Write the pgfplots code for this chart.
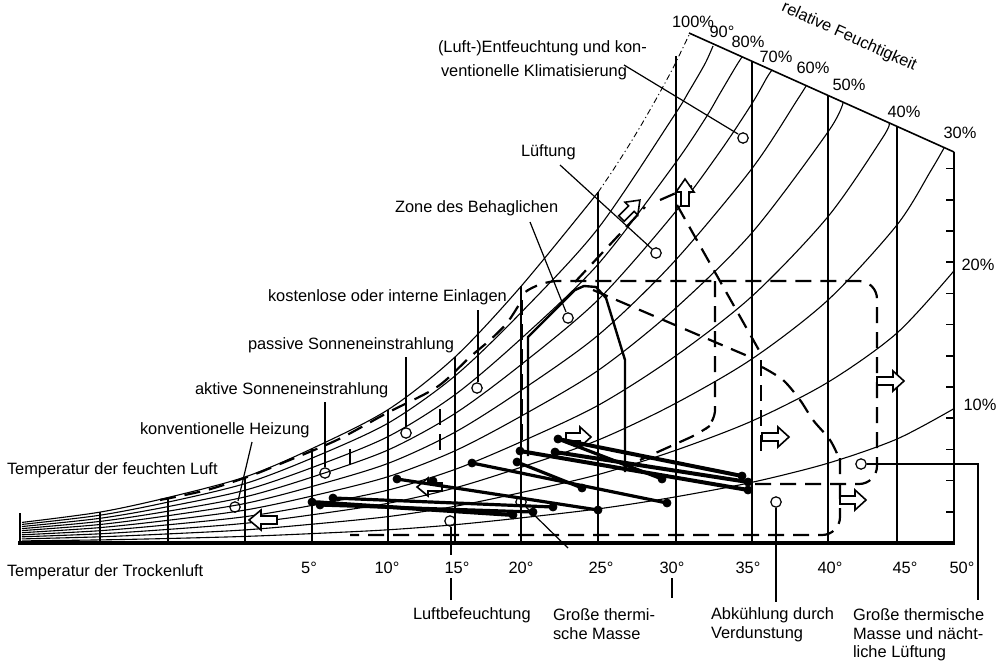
\documentclass[border=0pt]{standalone}
\usepackage{pgfplots}
\pgfplotsset{compat=1.18}
\usepackage{fontspec}
\setmainfont{Liberation Sans}
\newcommand\lab{\fontsize{8.2}{9.8}\selectfont}
\tikzset{t/.style={font=\lab, inner sep=0pt, outer sep=0pt}}
\begin{document}
\begin{tikzpicture}
\begin{axis}[
  x=0.5pt, y=0.5pt, y dir=reverse,
  xmin=0, xmax=999, ymin=0, ymax=663,
  hide axis, clip=false,
  curve/.style={line width=0.55pt, black, smooth},
  vl/.style={line width=0.7pt, black},
  dl/.style={line width=1.6pt, black},
  bd/.style={line width=1.1pt, black, dash pattern=on 8pt off 4.5pt},
  ar/.style={line width=0.8pt, black, fill=white},
]
\fill[white] (axis cs:0,0) rectangle (axis cs:999,663);

% relative humidity curves (pixel coordinates)
\addplot[curve] coordinates {(22,522.4)(100,512.1)(168,497.5)(245,477.0)(312,448.6)(388,409.7)(455,357.0)(521,286.4)(598,192.4)};
\addplot[line width=0.45pt, black, smooth, dash pattern=on 3pt off 1.5pt on 0.6pt off 1.5pt] coordinates {(598,192.4)(613,170.2)(628,146.8)(643,122.0)(658,95.7)(673,68.0)(689,35)};
\addplot[curve] coordinates {(22,524.4)(100,515.2)(168,502.1)(245,483.6)(312,458.1)(388,423.2)(455,375.9)(521,312.6)(598,228.5)(673,117.3)(689,91.3)(705,63.7)(713,46)};
\addplot[curve] coordinates {(22,526.5)(100,518.3)(168,506.6)(245,490.2)(312,467.6)(388,436.6)(455,394.7)(521,338.7)(598,264.3)(673,166.3)(705,119)(720,93.4)(736,66.3)(742,57)};
\addplot[curve] coordinates {(22,528.6)(100,521.4)(168,511.2)(245,496.9)(312,477.1)(388,450.0)(455,413.5)(521,364.7)(598,299.9)(673,214.8)(720,151.6)(752,103.5)(767,77.4)(772,70)};
\addplot[curve] coordinates {(22,530.6)(100,524.5)(168,515.7)(245,503.5)(312,486.5)(388,463.4)(455,432.2)(521,390.5)(598,335.3)(673,262.9)(752,168.5)(798,98.7)(806,86)};
\addplot[curve] coordinates {(22,532.7)(100,527.6)(168,520.3)(245,510.1)(312,496.0)(388,476.7)(455,450.8)(521,416.2)(598,370.5)(673,310.5)(752,232.7)(828,131.9)(843,103)};
\addplot[curve] coordinates {(22,534.8)(100,530.7)(168,524.8)(245,516.7)(312,505.4)(388,490.1)(455,469.4)(521,441.8)(598,405.4)(673,357.8)(752,296.2)(828,216.6)(883,137.1)(889,123)};
\addplot[curve] coordinates {(22,536.8)(100,533.8)(168,529.4)(245,523.3)(312,514.8)(388,503.3)(455,487.9)(521,467.3)(598,440.1)(673,404.7)(752,358.9)(828,300.0)(897,224.9)(931,170.4)(944,148)};
\addplot[curve] coordinates {(22,538.9)(100,536.8)(168,533.9)(245,529.9)(312,524.2)(388,516.6)(455,506.3)(521,492.6)(598,474.6)(673,451.2)(752,421.0)(828,382.2)(897,333.0)(954,270.8)};
\addplot[curve] coordinates {(22,540.9)(100,539.9)(168,538.5)(245,536.4)(312,533.6)(388,529.8)(455,524.7)(521,517.9)(598,508.9)(673,497.3)(752,482.3)(828,463.2)(897,439.0)(954,408.6)};

% dry-bulb verticals
\addplot[vl] coordinates {(20,513)(20,542)};
\addplot[vl] coordinates {(100,512)(100,542)};
\addplot[vl] coordinates {(168,497.5)(168,542)};
\addplot[vl] coordinates {(245,477)(245,542)};
\addplot[vl] coordinates {(312,448.6)(312,542)};
\addplot[vl] coordinates {(388,409.7)(388,542)};
\addplot[vl] coordinates {(455,357)(455,542)};
\addplot[vl] coordinates {(521,286.4)(521,542)};
\addplot[vl] coordinates {(598,192.4)(598,542)};
\addplot[vl] coordinates {(676,56)(676,542)};
\addplot[vl] coordinates {(752,61.5)(752,542)};
\addplot[vl] coordinates {(828,95.7)(828,542)};
\addplot[vl] coordinates {(897,126.8)(897,542)};

% frame
\addplot[line width=0.8pt] coordinates {(689,33)(954,152)};
\addplot[line width=1.1pt] coordinates {(954,152)(954,543)};
\addplot[line width=1.6pt] coordinates {(18,543)(955,543)};
\pgfplotsinvokeforeach{511.8,480.6,449.4,418.2,387,355.8,324.6,293.4,262.2,231,199.8,168.6}{
  \addplot[line width=0.8pt] coordinates {(946,#1)(954,#1)};
}

% comfort zone (solid)
\addplot[line width=1.2pt, black] coordinates {(528,456)(528,337)(575,290)(584,286)(596,287)(606,298)(625,360)(625,472)};

% strategy zones (dashed)
\addplot[bd, smooth] coordinates {(160,500)(207,490)(250,476)(280,464)(337,440)(387,413)(437,387)(470,357)(490,340)(507,323)(520,303)};
\addplot[bd] coordinates {(522,440)(522,300)};
\addplot[bd] coordinates {(440,450)(440,400)};
\addplot[bd] coordinates {(350,465)(350,440)};
\addplot[bd, rounded corners=9pt] coordinates {(528,290)(540,281)(877,281)(877,484)(745,484)};
\addplot[bd, rounded corners=6pt] coordinates {(715,281)(715,422)(700,433)(640,460)};
\addplot[bd] coordinates {(593,290)(750,357)};
\addplot[bd] coordinates {(575,282)(645,207)};
\addplot[bd] coordinates {(660,200)(692,186)};
\addplot[bd] coordinates {(677,205)(760,352)};
\addplot[bd] coordinates {(761,360)(761,457)};
\addplot[bd, smooth] coordinates {(762,367)(783,380)(800,400)(813,420)(830,440)(839,458)};
\addplot[bd, rounded corners=9pt] coordinates {(840,458)(840,535)(350,535)};

% open block arrows
\addplot[ar] coordinates {(618.7,215.7)(628.6,205.8)(625.0,202.2)(639.9,200.1)(637.8,215.0)(634.2,211.4)(624.3,221.3)} -- cycle;
\addplot[ar] coordinates {(681,206)(681,192)(676,192)(685,179)(694,192)(689,192)(689,206)} -- cycle;
\addplot[ar] coordinates {(762,433)(778,433)(778,427)(789,437)(778,447)(778,441)(762,441)} -- cycle;
\addplot[ar] coordinates {(877,377)(893,377)(893,371)(904,381)(893,391)(893,385)(877,385)} -- cycle;
\addplot[ar] coordinates {(840,496)(855,496)(855,490)(866,500)(855,510)(855,504)(840,504)} -- cycle;
\addplot[ar] coordinates {(566,433)(580,433)(580,427)(591,437)(580,447)(580,441)(566,441)} -- cycle;
\addplot[ar] coordinates {(277,516)(261,516)(261,510)(249,520)(261,530)(261,524)(277,524)} -- cycle;
\addplot[ar] coordinates {(442,483)(428,483)(428,478)(417,487)(428,496)(428,491)(442,491)} -- cycle;

% climate lines (thick with dots)
\addplot[line width=2pt, black] coordinates {(558,439)(742,476)};
\addplot[line width=2pt, black] coordinates {(555,452)(748,482)};
\addplot[line width=2pt, black] coordinates {(520,451)(748,490)};
\addplot[dl] coordinates {(558,439)(662,479)};
\addplot[dl] coordinates {(517,462)(582,488)};
\addplot[dl] coordinates {(472,463)(667,503)};
\addplot[dl] coordinates {(397,479)(598,510)};
\addplot[line width=2pt, black] coordinates {(312,502)(513,515)};
\addplot[dl] coordinates {(333,498)(553,507)};
\addplot[dl] coordinates {(320,505)(533,512)};
\addplot[only marks, mark=*, mark size=2pt, black] coordinates {
 (558,439)(742,476)(555,452)(748,482)(520,451)(748,490)(662,479)(517,462)(582,488)
 (472,463)(667,503)(397,479)(598,510)(312,502)(513,515)(333,498)(553,507)(320,505)(533,512)(433,481)};

% leader lines
\addplot[line width=0.6pt] coordinates {(624,65)(738,134)};
\addplot[line width=0.6pt] coordinates {(560,165)(652,249)};
\addplot[line width=0.6pt] coordinates {(530,222)(566,312)};
\addplot[line width=0.6pt] coordinates {(478,310)(478,382)};
\addplot[line width=0.6pt] coordinates {(406,357)(406,427)};
\addplot[line width=0.6pt] coordinates {(325,402)(325,467)};
\addplot[line width=0.6pt] coordinates {(252,442)(238,501)};
\addplot[line width=0.6pt] coordinates {(451,527)(451,555)};
\addplot[line width=0.6pt] coordinates {(451,578)(451,600)};
\addplot[line width=0.6pt] coordinates {(526,507)(568,548)};
\addplot[line width=0.6pt] coordinates {(672,578)(672,598)};
\addplot[line width=0.6pt] coordinates {(776,508)(776,602)};
\addplot[line width=0.6pt] coordinates {(867,464)(978,464)(978,600)};
\addplot[only marks, mark=o, mark size=2.6pt, line width=0.6pt, black, fill=white] coordinates {
 (743,138)(656,253)(568,318)(477,388)(406,433)(325,473)(235,507)(450,521)(521,502)(776,502)(861,464)};

% texts
\node[t, anchor=west] at (axis cs:438,48) {(Luft-)Entfeuchtung und kon-};
\node[t, anchor=west] at (axis cs:441,72) {ventionelle Klimatisierung};
\node[t, anchor=west] at (axis cs:521,152) {Lüftung};
\node[t, anchor=west] at (axis cs:395,208) {Zone des Behaglichen};
\node[t, anchor=west] at (axis cs:268,297) {kostenlose oder interne Einlagen};
\node[t, anchor=west] at (axis cs:248,345) {passive Sonneneinstrahlung};
\node[t, anchor=west] at (axis cs:195,390) {aktive Sonneneinstrahlung};
\node[t, anchor=west] at (axis cs:140,430) {konventionelle Heizung};
\node[t, anchor=west] at (axis cs:7,470) {Temperatur der feuchten Luft};
\node[t, anchor=west] at (axis cs:7,572) {Temperatur der Trockenluft};
\node[t] at (axis cs:309,568) {5°};
\node[t] at (axis cs:387,568) {10°};
\node[t] at (axis cs:457,568) {15°};
\node[t] at (axis cs:521,568) {20°};
\node[t] at (axis cs:601,568) {25°};
\node[t] at (axis cs:672,568) {30°};
\node[t] at (axis cs:748,568) {35°};
\node[t] at (axis cs:830,568) {40°};
\node[t] at (axis cs:905,568) {45°};
\node[t] at (axis cs:962,568) {50°};
\node[t, anchor=west] at (axis cs:413,615) {Luftbefeuchtung};
\node[t, anchor=west] at (axis cs:553,615) {Große thermi-};
\node[t, anchor=west] at (axis cs:553,634) {sche Masse};
\node[t, anchor=west] at (axis cs:711,615) {Abkühlung durch};
\node[t, anchor=west] at (axis cs:711,634) {Verdunstung};
\node[t, anchor=west] at (axis cs:853,615) {Große thermische};
\node[t, anchor=west] at (axis cs:853,634) {Masse und nächt-};
\node[t, anchor=west] at (axis cs:853,653) {liche Lüftung};
\node[t] at (axis cs:693,22) {100\%};
\node[t] at (axis cs:722,32) {90°};
\node[t] at (axis cs:748,42) {80\%};
\node[t] at (axis cs:776,57) {70\%};
\node[t] at (axis cs:813,68) {60\%};
\node[t] at (axis cs:849,85) {50\%};
\node[t] at (axis cs:904,112) {40\%};
\node[t] at (axis cs:960,133) {30\%};
\node[t] at (axis cs:978,265) {20\%};
\node[t] at (axis cs:980,405) {10\%};
\node[t, rotate=-24.3] at (axis cs:849,37) {relative Feuchtigkeit};
\end{axis}
\end{tikzpicture}
\end{document}
